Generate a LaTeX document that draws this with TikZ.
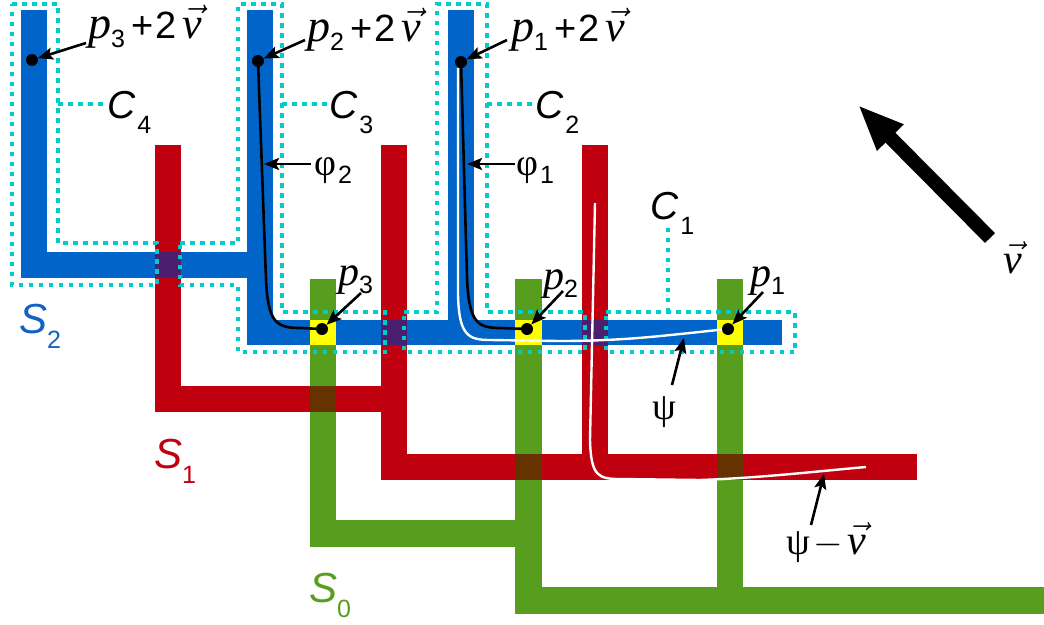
\documentclass[tikz,border=0pt]{standalone}
\usepackage{fix-cm}
\usepackage{amsmath}
\usepackage[no-math]{fontspec}
\setmainfont{Liberation Sans}
\newfontfamily\grk{Liberation Serif}
\usetikzlibrary{arrows.meta}
\definecolor{bS}{RGB}{0,100,200}
\definecolor{bT}{RGB}{16,98,196}
\definecolor{rS}{RGB}{192,0,14}
\definecolor{gS}{RGB}{88,158,30}
\definecolor{pS}{RGB}{75,30,110}
\definecolor{brS}{RGB}{102,51,0}
\definecolor{yS}{RGB}{255,255,0}
\definecolor{cS}{RGB}{0,204,204}
\newcommand\subx[2]{\raisebox{#1}{\fontsize{25}{25}\selectfont #2}}
\newcommand\vv{\ensuremath{\skew{2}{\vec}{\mbox{\grk\itshape v}}}}
\newcommand\pp[1]{{\fontsize{#1}{#1}\selectfont\grk\itshape p}}
\newcommand\plab[1]{\pp{46}\subx{-9pt}{#1}\hspace{6pt}{\fontsize{38}{40}\selectfont +\hspace{2pt}2}\hspace{6pt}{\fontsize{44}{44}\selectfont\vv}}
\newcommand\clab[1]{\fontsize{39}{40}\selectfont\itshape C\upshape\hspace{2pt}\subx{-15pt}{#1}}
\newcommand\slab[1]{\fontsize{42}{42}\selectfont\itshape S\upshape\subx{-15pt}{#1}}
\newcommand\glab[2]{\fontsize{38}{38}\selectfont{\grk #1}\hspace{2pt}\subx{-8pt}{#2}}
\tikzset{
  lbl/.style={inner sep=0pt, anchor=base west},
  ptr/.style={line width=2.6pt, -{Stealth[length=15pt,width=12pt,inset=3pt]}},
  dot/.style={circle, fill=black, inner sep=0pt, minimum size=12pt},
  cline/.style={cS, line width=4.5pt, dash pattern=on 4.5pt off 5.5pt},
  phicurve/.style={black, line width=2.6pt},
  psicurve/.style={white, line width=2.4pt},
}
\begin{document}
\begin{tikzpicture}[x=1pt,y=-1pt]
\useasboundingbox (0,0) rectangle (1044,624);
% S2 blue
\fill[bS] (21,10) rectangle (47,278);
\fill[bS] (21,252) rectangle (273,278);
\fill[bS] (247,10) rectangle (273,345);
\fill[bS] (247,320) rectangle (782,345);
\fill[bS] (448,10) rectangle (474,320);
% S1 red
\fill[rS] (155,145) rectangle (181,412);
\fill[rS] (155,386) rectangle (407,412);
\fill[rS] (381,145) rectangle (407,480);
\fill[rS] (381,454) rectangle (917,480);
\fill[rS] (582,145) rectangle (608,480);
% S0 green
\fill[gS] (310,279) rectangle (336,547);
\fill[gS] (310,520) rectangle (542,547);
\fill[gS] (515,279) rectangle (542,614);
\fill[gS] (515,587) rectangle (1044,614);
\fill[gS] (717,279) rectangle (743,614);
% intersections
\fill[pS] (155,252) rectangle (181,278);
\fill[pS] (381,320) rectangle (407,345);
\fill[pS] (582,320) rectangle (608,345);
\fill[brS] (310,386) rectangle (336,412);
\fill[brS] (515,454) rectangle (542,480);
\fill[brS] (717,454) rectangle (743,480);
\fill[yS] (310,320) rectangle (336,345);
\fill[yS] (515,320) rectangle (542,345);
\fill[yS] (717,320) rectangle (743,345);
% dotted outlines
\draw[cline] (12,4) -- (58,4) -- (58,243) -- (157,243) -- (157,285) -- (12,285) -- cycle;
\draw[cline] (180,243) -- (238,243) -- (238,4) -- (282,4) -- (282,312) -- (385,312) -- (385,352) -- (238,352) -- (238,285) -- (180,285) -- cycle;
\draw[cline] (404,312) -- (437,312) -- (437,4) -- (487,4) -- (487,312) -- (585,312) -- (585,352) -- (404,352) -- cycle;
\draw[cline] (606,312) -- (795,312) -- (795,352) -- (606,352) -- cycle;
% leaders
\draw[cline] (58,104) -- (105,104);
\draw[cline] (282,104) -- (328,104);
\draw[cline] (487,104) -- (533,104);
\draw[cline] (668,312) -- (668,226);
% curves
\draw[phicurve] (258,61) -- (266,280) .. controls (268,322) and (276,328) .. (300,328) -- (322,329);
\draw[phicurve] (461,62) -- (467,278) .. controls (469,322) and (477,328) .. (500,328) -- (527,329);
\draw[psicurve] (458,68) -- (458,295) .. controls (459,335) and (468,340) .. (490,340) -- (560,341) .. controls (620,341) and (660,336) .. (690,333) -- (727,329);
\draw[psicurve] (595,203) -- (590,440) .. controls (591,476) and (598,479) .. (620,479) -- (700,480) .. controls (760,478) and (820,471) .. (866,467);
% dots
\node[dot] (d3v) at (32,60) {};
\node[dot] (d2v) at (258,61) {};
\node[dot] (d1v) at (461,62) {};
\node[dot] (d3) at (322,329) {};
\node[dot] (d2) at (527,329) {};
\node[dot] (d1) at (728,329) {};
% labels
\node[lbl] (l3v) at (88,38) {\plab{3}};
\node[lbl] (l2v) at (307,41) {\plab{2}};
\node[lbl] (l1v) at (511,41) {\plab{1}};
\node[lbl] (lp3) at (338,285) {\pp{42}\subx{-8pt}{3}};
\node[lbl] (lp2) at (543,289) {\pp{42}\subx{-8pt}{2}};
\node[lbl] (lp1) at (750,286) {\pp{42}\subx{-8pt}{1}};
\node[lbl] (lphi2) at (314,175) {\glab{φ}{2}};
\node[lbl] (lphi1) at (516,175) {\glab{φ}{1}};
\node[lbl] (lpsi) at (652,419) {\fontsize{38}{38}\selectfont{\grk ψ}};
\node[lbl] (lpsiv) at (786,554) {\fontsize{38}{38}\selectfont{\grk ψ}\hspace{4pt}$-$\hspace{4pt}{\fontsize{42}{42}\selectfont\vv}};
\node[lbl] (lv) at (1003,273) {\fontsize{42}{42}\selectfont\vv};
\node[lbl] (lc4) at (107,118) {\clab{4}};
\node[lbl] (lc3) at (329,118) {\clab{3}};
\node[lbl] (lc2) at (535,118) {\clab{2}};
\node[lbl] (lc1) at (650,219) {\clab{1}};
\node[lbl, text=bT] (ls2) at (19,333) {\slab{2}};
\node[lbl, text=rS] (ls1) at (154,468) {\slab{1}};
\node[lbl, text=gS] (ls0) at (309,602) {\slab{0}};
% pointer tails
\coordinate (t3v) at (86,43);
\coordinate (t2v) at (305,40);
\coordinate (t1v) at (507,40);
\coordinate (t3) at (361,293);
\coordinate (t2) at (563,291);
\coordinate (t1) at (763,292);
\coordinate (tphi2) at (311,164);
\coordinate (hphi2) at (264,164);
\coordinate (tphi1) at (515,164);
\coordinate (hphi1) at (467,164);
\coordinate (tpsi) at (672,385);
\coordinate (hpsi) at (684,338);
\coordinate (tpsiv) at (811,525);
\coordinate (hpsiv) at (824,474);
\draw[ptr] (t3v) -- (d3v);
\draw[ptr] (t2v) -- (d2v);
\draw[ptr] (t1v) -- (d1v);
\draw[ptr] (t3) -- (d3);
\draw[ptr] (t2) -- (d2);
\draw[ptr] (t1) -- (d1);
\draw[ptr] (tphi2) -- (hphi2);
\draw[ptr] (tphi1) -- (hphi1);
\draw[ptr] (tpsi) -- (hpsi);
\draw[ptr] (tpsiv) -- (hpsiv);
% big arrow v
\coordinate (vtail) at (990,238);
\coordinate (vhead) at (858,105);
\draw[line width=14pt, -{Triangle[length=46pt,width=34pt]}] (vtail) -- (vhead);
\end{tikzpicture}
\end{document}
